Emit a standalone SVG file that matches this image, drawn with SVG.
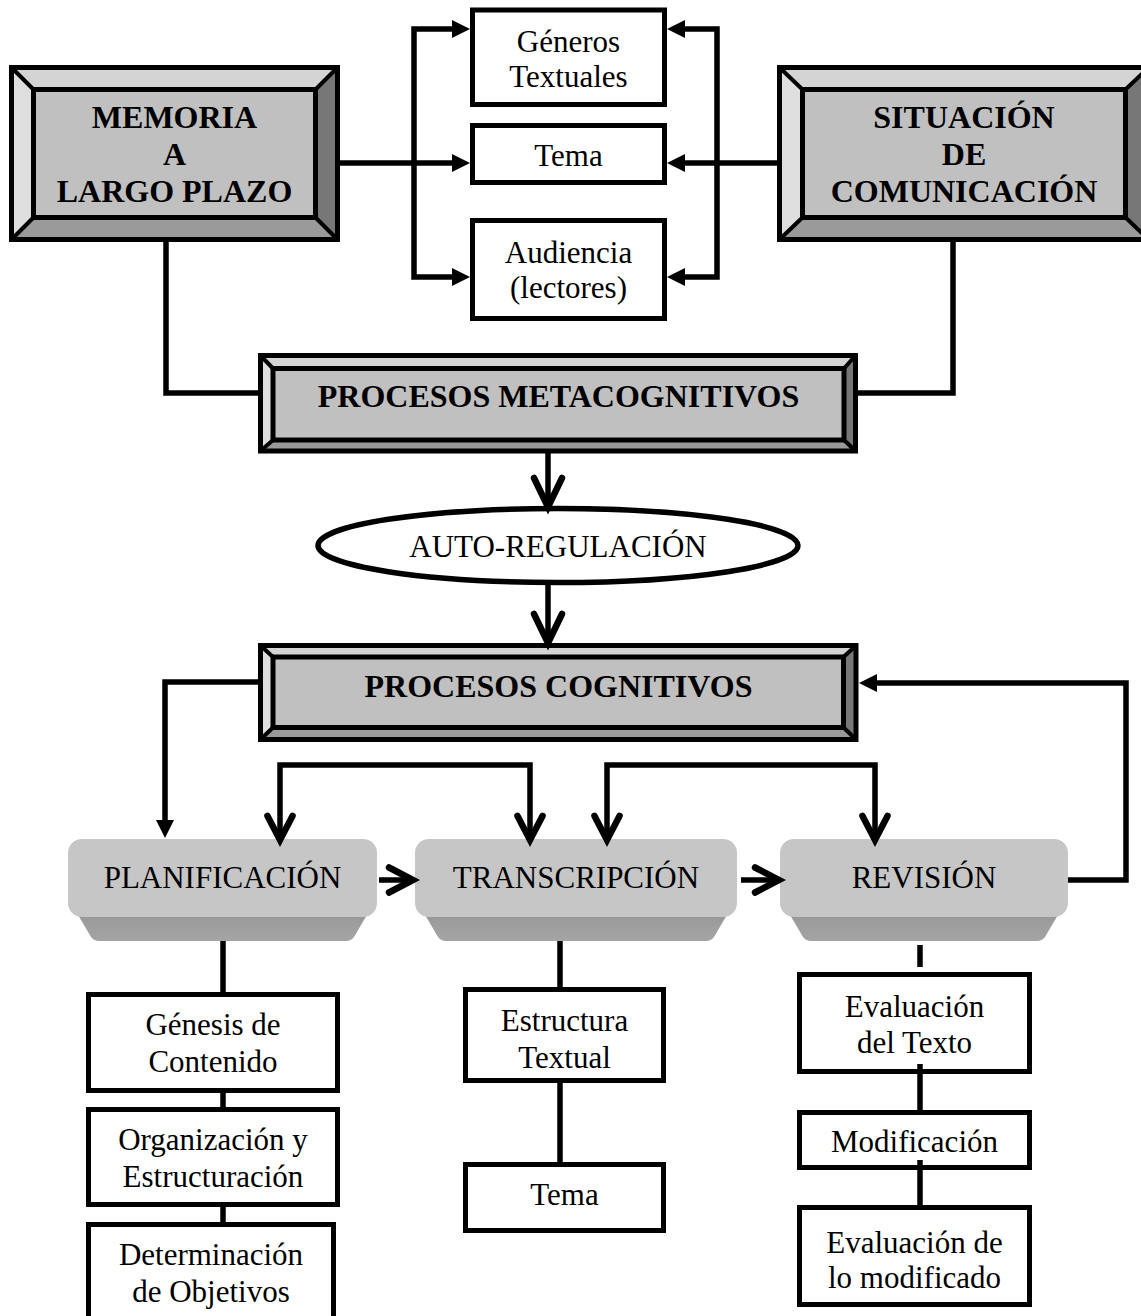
<svg xmlns="http://www.w3.org/2000/svg" width="1141" height="1316" viewBox="0 0 1141 1316">
  <style>
    text { font-family: "Liberation Serif", "Times New Roman", serif; text-anchor: middle; fill: #000; }
    .b { font-size: 32px; font-weight: bold; }
    .r { font-size: 31px; }
    .box { fill: #fff; stroke: #000; stroke-width: 5; }
    .edge { fill: none; stroke: #000; stroke-width: 5; }
    .diag { stroke: #000; stroke-width: 4; }
    .bt { fill: #d4d4d4; }
    .bl { fill: #dedede; }
    .br { fill: #777; }
    .bb { fill: #9a9a9a; }
    .face { fill: #c0c0c0; }
    .conn { fill: none; stroke: #000; stroke-width: 5.5; }
    .btn-face { fill: #c6c6c6; }
  </style>
  <defs>
    <marker id="tri" markerUnits="userSpaceOnUse" orient="auto-start-reverse" markerWidth="40" markerHeight="40" refX="0" refY="0" overflow="visible">
      <path d="M-8,-9 L10,0 L-8,9 Z" fill="#000"/>
    </marker>
    <marker id="chev" markerUnits="userSpaceOnUse" orient="auto-start-reverse" markerWidth="40" markerHeight="40" refX="0" refY="0" overflow="visible">
      <path d="M-20,-12.5 L4,0 L-20,12.5" fill="none" stroke="#000" stroke-width="6.5" stroke-linecap="round"/>
    </marker>
    <marker id="chevL" markerUnits="userSpaceOnUse" orient="auto" markerWidth="40" markerHeight="40" refX="0" refY="0" overflow="visible">
      <path d="M-25,-14 L4,0 L-25,14" fill="none" stroke="#000" stroke-width="6.5" stroke-linecap="round"/>
    </marker>
    <linearGradient id="btnBase" x1="0" y1="0" x2="0" y2="1">
      <stop offset="0" stop-color="#8f8f8f"/>
      <stop offset="0.4" stop-color="#9c9c9c"/>
      <stop offset="1" stop-color="#a4a4a4"/>
    </linearGradient>
  </defs>

  <!-- Bevelled boxes -->
  <g id="memoria">
    <polygon class="bt" points="11.5,67.5 337.5,67.5 315.5,89.5 33.5,89.5"/>
    <polygon class="br" points="337.5,67.5 337.5,239.5 315.5,217.5 315.5,89.5"/>
    <polygon class="bb" points="337.5,239.5 11.5,239.5 33.5,217.5 315.5,217.5"/>
    <polygon class="bl" points="11.5,239.5 11.5,67.5 33.5,89.5 33.5,217.5"/>
    <rect class="face" x="33.5" y="89.5" width="282" height="128"/>
    <path class="diag" d="M11.5,67.5 L33.5,89.5 M337.5,67.5 L315.5,89.5 M337.5,239.5 L315.5,217.5 M11.5,239.5 L33.5,217.5"/>
    <rect class="edge" x="33.5" y="89.5" width="282" height="128"/>
    <rect class="edge" x="11.5" y="67.5" width="326" height="172"/>
    <text class="b" x="174.5" y="128">MEMORIA</text>
    <text class="b" x="174.5" y="165">A</text>
    <text class="b" x="174.5" y="202">LARGO PLAZO</text>
  </g>

  <g id="situacion">
    <polygon class="bt" points="779.5,67.5 1148.5,67.5 1125.5,89.5 802.5,89.5"/>
    <polygon class="br" points="1148.5,67.5 1148.5,239.5 1125.5,217.5 1125.5,89.5"/>
    <polygon class="bb" points="1148.5,239.5 779.5,239.5 802.5,217.5 1125.5,217.5"/>
    <polygon class="bl" points="779.5,239.5 779.5,67.5 802.5,89.5 802.5,217.5"/>
    <rect class="face" x="802.5" y="89.5" width="323" height="128"/>
    <path class="diag" d="M779.5,67.5 L802.5,89.5 M1148.5,67.5 L1125.5,89.5 M1148.5,239.5 L1125.5,217.5 M779.5,239.5 L802.5,217.5"/>
    <rect class="edge" x="802.5" y="89.5" width="323" height="128"/>
    <rect class="edge" x="779.5" y="67.5" width="369" height="172"/>
    <text class="b" x="964" y="128">SITUACIÓN</text>
    <text class="b" x="964" y="165">DE</text>
    <text class="b" x="964" y="202">COMUNICACIÓN</text>
  </g>

  <!-- Central input boxes -->
  <g id="generos">
    <rect class="box" x="472.5" y="10" width="192" height="94.5"/>
    <text class="r" x="568.5" y="52">Géneros</text>
    <text class="r" x="568.5" y="87">Textuales</text>
  </g>
  <g id="tema-top">
    <rect class="box" x="472.5" y="125.5" width="192" height="57"/>
    <text class="r" x="568.5" y="166">Tema</text>
  </g>
  <g id="audiencia">
    <rect class="box" x="472.5" y="220.5" width="192" height="98"/>
    <text class="r" x="568.5" y="263">Audiencia</text>
    <text class="r" x="568.5" y="298">(lectores)</text>
  </g>

  <g id="metacognitivos">
    <polygon class="bt" points="260.5,355.5 855.5,355.5 844,368.5 273,368.5"/>
    <polygon class="br" points="855.5,355.5 855.5,451 844,440 844,368.5"/>
    <polygon class="bb" points="855.5,451 260.5,451 273,440 844,440"/>
    <polygon class="bl" points="260.5,451 260.5,355.5 273,368.5 273,440"/>
    <rect class="face" x="273" y="368.5" width="571" height="71.5"/>
    <path class="diag" d="M260.5,355.5 L273,368.5 M855.5,355.5 L844,368.5 M855.5,451 L844,440 M260.5,451 L273,440"/>
    <rect class="edge" x="273" y="368.5" width="571" height="71.5"/>
    <rect class="edge" x="260.5" y="355.5" width="595" height="95.5"/>
    <text class="b" x="558.5" y="407">PROCESOS METACOGNITIVOS</text>
  </g>

  <g id="autorregulacion">
    <ellipse cx="558" cy="545.5" rx="240" ry="37" fill="#fff" stroke="#000" stroke-width="5.5"/>
    <text class="r" x="558" y="557">AUTO-REGULACIÓN</text>
  </g>

  <g id="cognitivos">
    <polygon class="bt" points="260.5,645.5 856,645.5 843.5,657 273,657"/>
    <polygon class="br" points="856,645.5 856,739.5 843.5,727.5 843.5,657"/>
    <polygon class="bb" points="856,739.5 260.5,739.5 273,727.5 843.5,727.5"/>
    <polygon class="bl" points="260.5,739.5 260.5,645.5 273,657 273,727.5"/>
    <rect class="face" x="273" y="657" width="570.5" height="70.5"/>
    <path class="diag" d="M260.5,645.5 L273,657 M856,645.5 L843.5,657 M856,739.5 L843.5,727.5 M260.5,739.5 L273,727.5"/>
    <rect class="edge" x="273" y="657" width="570.5" height="70.5"/>
    <rect class="edge" x="260.5" y="645.5" width="595.5" height="94"/>
    <text class="b" x="558.5" y="697">PROCESOS COGNITIVOS</text>
  </g>

  <!-- Raised process buttons -->
  <g id="planificacion">
    <path d="M74,908 H371 L354,937 Q351,941 346,941 H99 Q94,941 91,937 Z" fill="url(#btnBase)"/>
    <rect class="btn-face" x="68" y="839" width="309" height="78" rx="14"/>
    <text class="r" x="222.5" y="888">PLANIFICACIÓN</text>
  </g>
  <g id="transcripcion">
    <path d="M421,908 H731 L714,937 Q711,941 706,941 H446 Q441,941 438,937 Z" fill="url(#btnBase)"/>
    <rect class="btn-face" x="415" y="839" width="322" height="78" rx="14"/>
    <text class="r" x="576" y="888">TRANSCRIPCIÓN</text>
  </g>
  <g id="revision">
    <path d="M786,908 H1062 L1045,937 Q1042,941 1037,941 H811 Q806,941 803,937 Z" fill="url(#btnBase)"/>
    <rect class="btn-face" x="780" y="839" width="288" height="78" rx="14"/>
    <text class="r" x="924" y="888">REVISIÓN</text>
  </g>

  <!-- Sub-steps -->
  <g id="genesis">
    <rect class="box" x="88.5" y="994.5" width="249" height="96"/>
    <text class="r" x="213" y="1035">Génesis de</text>
    <text class="r" x="213" y="1072">Contenido</text>
  </g>
  <g id="organizacion">
    <rect class="box" x="88.5" y="1109.5" width="249" height="95"/>
    <text class="r" x="213" y="1150">Organización y</text>
    <text class="r" x="213" y="1187">Estructuración</text>
  </g>
  <g id="objetivos">
    <rect class="box" x="88.5" y="1224.5" width="245" height="110"/>
    <text class="r" x="211" y="1265">Determinación</text>
    <text class="r" x="211" y="1302">de Objetivos</text>
  </g>
  <g id="estructura">
    <rect class="box" x="465.5" y="989.5" width="198" height="91"/>
    <text class="r" x="564.5" y="1031">Estructura</text>
    <text class="r" x="564.5" y="1068">Textual</text>
  </g>
  <g id="tema-bottom">
    <rect class="box" x="465.5" y="1164.5" width="198" height="66"/>
    <text class="r" x="564.5" y="1205">Tema</text>
  </g>
  <g id="evaluacion">
    <rect class="box" x="799.5" y="974.5" width="230" height="97"/>
    <text class="r" x="914.5" y="1017">Evaluación</text>
    <text class="r" x="914.5" y="1053">del Texto</text>
  </g>
  <g id="modificacion">
    <rect class="box" x="799.5" y="1112.5" width="230" height="55"/>
    <text class="r" x="914.5" y="1152">Modificación</text>
  </g>
  <g id="evaluacion-modificado">
    <rect class="box" x="799.5" y="1207.5" width="230" height="97"/>
    <text class="r" x="914.5" y="1253">Evaluación de</text>
    <text class="r" x="914.5" y="1288">lo modificado</text>
  </g>

  <!-- Connectors -->
  <g id="connectors" class="conn">
    <path d="M460,29 H414 V277 H460" marker-start="url(#tri)" marker-end="url(#tri)"/>
    <path d="M677,29 H717 V277 H677" marker-start="url(#tri)" marker-end="url(#tri)"/>
    <path d="M337.5,163 H460" marker-end="url(#tri)"/>
    <path d="M779.5,163 H677" marker-end="url(#tri)"/>
    <path d="M166,242 V393 H260.5"/>
    <path d="M953,242 V393 H856"/>
    <path d="M548,453 V503" marker-end="url(#chevL)"/>
    <path d="M548,583 V639" marker-end="url(#chevL)"/>
    <path d="M260.5,682 H165 V828" marker-end="url(#tri)"/>
    <path d="M280,836 V765 H530 V836" marker-start="url(#chev)" marker-end="url(#chev)"/>
    <path d="M607,836 V765 H875 V836" marker-start="url(#chev)" marker-end="url(#chev)"/>
    <path d="M379,880 H409" marker-end="url(#chev)"/>
    <path d="M741,880 H775" marker-end="url(#chev)"/>
    <path d="M1068,880 H1126 V683 H869" marker-end="url(#tri)"/>
    <path d="M223,941 V994"/>
    <path d="M223,1091 V1109"/>
    <path d="M223,1205 V1224"/>
    <path d="M560,941 V989"/>
    <path d="M560,1081 V1164"/>
    <path d="M920,945 V967"/>
    <path d="M920,1064 V1112"/>
    <path d="M920,1160 V1207"/>
  </g>
</svg>
